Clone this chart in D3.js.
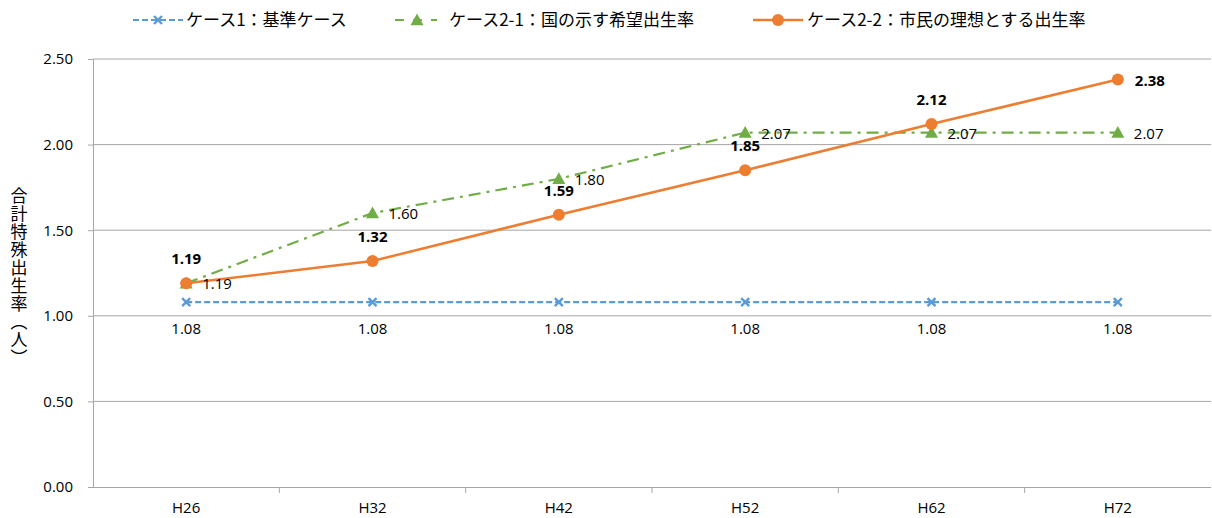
<!DOCTYPE html>
<html>
<head>
<meta charset="utf-8">
<script src="https://cdn.jsdelivr.net/npm/d3@7"></script>
<style>
  html, body { margin: 0; padding: 0; background: #fff; }
  svg text { font-family: "Open Sans", "Noto Sans CJK JP", sans-serif; fill: #000; }
  svg text.jp { font-family: "Noto Sans CJK JP", sans-serif; }
</style>
</head>
<body>
<svg id="chart" width="1212" height="518"></svg>
<script>
// 合計特殊出生率の推計 (3ケース)
const categories = ["H26", "H32", "H42", "H52", "H62", "H72"];
const case1 = [1.08, 1.08, 1.08, 1.08, 1.08, 1.08];
const case21 = [1.19, 1.60, 1.80, 2.07, 2.07, 2.07];
const case22 = [1.19, 1.32, 1.59, 1.85, 2.12, 2.38];
const yTicks = [0, 0.5, 1.0, 1.5, 2.0, 2.5];
const seriesNames = ["ケース1：基準ケース", "ケース2-1：国の示す希望出生率", "ケース2-2：市民の理想とする出生率"];
const yTitle = "合計特殊出生率（人）";

const svg = d3.select("#chart");
const margin = { left: 93, right: 1211, top: 59, bottom: 487 };

const x = d3.scaleBand().domain(categories).range([margin.left, margin.right]);
const y = d3.scaleLinear().domain([0, 2.5]).range([margin.bottom, margin.top]);
const cx = c => x(c) + x.bandwidth() / 2;

// gridlines
svg.append("g").selectAll("line").data(yTicks.filter(t => t > 0)).join("line")
  .attr("x1", margin.left).attr("x2", margin.right)
  .attr("y1", d => y(d)).attr("y2", d => y(d))
  .attr("stroke", "#a6a6a6").attr("stroke-width", 1);

// y axis
const yAxis = svg.append("g").attr("transform", `translate(${margin.left},0)`)
  .call(d3.axisLeft(y).tickValues(yTicks).tickFormat(d3.format(".2f")).tickSize(5).tickPadding(15));
yAxis.select(".domain").attr("stroke", "#a6a6a6");
yAxis.selectAll(".tick line").attr("stroke", "#a6a6a6");
yAxis.selectAll(".tick text").style("font-size", "15px").attr("fill", "#000");

// x axis
const xAxis = svg.append("g").attr("transform", `translate(0,${margin.bottom})`)
  .call(d3.axisBottom(x).tickSize(0).tickPadding(15));
xAxis.select(".domain").attr("stroke", "#a6a6a6").attr("d", `M${margin.left},0.5H${margin.right}`);
xAxis.selectAll(".tick text").style("font-size", "15px").attr("fill", "#000");
svg.append("g").selectAll("line").data(categories.slice(1)).join("line")
  .attr("x1", d => x(d)).attr("x2", d => x(d))
  .attr("y1", margin.bottom).attr("y2", margin.bottom + 6)
  .attr("stroke", "#a6a6a6");

// y axis title, set vertically
svg.append("text").attr("class", "jp")
  .attr("x", 19).attr("y", 277)
  .attr("text-anchor", "middle")
  .style("writing-mode", "vertical-rl")
  .style("font-size", "17px")
  .style("letter-spacing", "1px")
  .text(yTitle);

const line = d3.line().x((d, i) => cx(categories[i])).y(d => y(d));
const colors = ["#5b9bd5", "#70ad47", "#ed7d31"];

// series 1
svg.append("path").datum(case1).attr("d", line).attr("fill", "none")
  .attr("stroke", colors[0]).attr("stroke-width", 2.2).attr("stroke-dasharray", "6,3");
// series 2
svg.append("path").datum(case21).attr("d", line).attr("fill", "none")
  .attr("stroke", colors[1]).attr("stroke-width", 2.2).attr("stroke-dasharray", "12,6,3,6");
// series 3
svg.append("path").datum(case22).attr("d", line).attr("fill", "none")
  .attr("stroke", colors[2]).attr("stroke-width", 2.5);

const cross = (g, px, py, s, col) => {
  g.append("path").attr("d", `M${px - s},${py - s}L${px + s},${py + s}M${px - s},${py + s}L${px + s},${py - s}`)
    .attr("stroke", col).attr("stroke-width", 2.4).attr("fill", "none");
};
const tri = (g, px, py, s, col) => {
  g.append("path").attr("d", `M${px},${py - s}L${px + s},${py + s * 0.8}L${px - s},${py + s * 0.8}Z`).attr("fill", col);
};

const m1 = svg.append("g");
case1.forEach((v, i) => cross(m1, cx(categories[i]), y(v), 4, colors[0]));
const m2 = svg.append("g");
case21.forEach((v, i) => tri(m2, cx(categories[i]), y(v), 6.5, colors[1]));
svg.append("g").selectAll("circle").data(case22).join("circle")
  .attr("cx", (d, i) => cx(categories[i])).attr("cy", d => y(d)).attr("r", 6)
  .attr("fill", colors[2]);

// data labels
svg.append("g").selectAll("text").data(case1).join("text")
  .attr("x", (d, i) => cx(categories[i])).attr("y", d => y(d) + 32)
  .attr("text-anchor", "middle").style("font-size", "15px").text(d => d.toFixed(2));
svg.append("g").selectAll("text").data(case21).join("text")
  .attr("x", (d, i) => cx(categories[i]) + 16).attr("y", d => y(d) + 6)
  .attr("text-anchor", "start").style("font-size", "15px").text(d => d.toFixed(2));
svg.append("g").selectAll("text").data(case22).join("text")
  .attr("x", (d, i) => i === case22.length - 1 ? cx(categories[i]) + 17 : cx(categories[i]))
  .attr("y", (d, i) => i === case22.length - 1 ? y(d) + 6 : y(d) - 19)
  .attr("text-anchor", (d, i) => i === case22.length - 1 ? "start" : "middle")
  .style("font-size", "15px").style("font-weight", "bold").text(d => d.toFixed(2));

// legend
const legend = svg.append("g");
const legItems = [
  { lx: 133, tx: 186 },
  { lx: 395, tx: 449 },
  { lx: 753, tx: 807 }
];
legItems.forEach((it, i) => {
  const ly = 20;
  const ln = legend.append("line").attr("x1", it.lx).attr("x2", it.lx + 50).attr("y1", ly).attr("y2", ly)
    .attr("stroke", colors[i]).attr("stroke-width", i === 2 ? 2.5 : 2.2);
  if (i === 0) ln.attr("stroke-dasharray", "6,3");
  if (i === 1) ln.attr("x2", it.lx + 42).attr("stroke-dasharray", "9,9,0,0,9,9");
  if (i === 0) cross(legend, it.lx + 25, ly, 4, colors[0]);
  if (i === 1) tri(legend, it.lx + 22, ly, 6.5, colors[1]);
  if (i === 2) legend.append("circle").attr("cx", it.lx + 25).attr("cy", ly).attr("r", 6).attr("fill", colors[2]);
  legend.append("text").attr("class", "jp").attr("x", it.tx).attr("y", ly + 6)
    .style("font-size", "17px").text(seriesNames[i]);
});
</script>
</body>
</html>
